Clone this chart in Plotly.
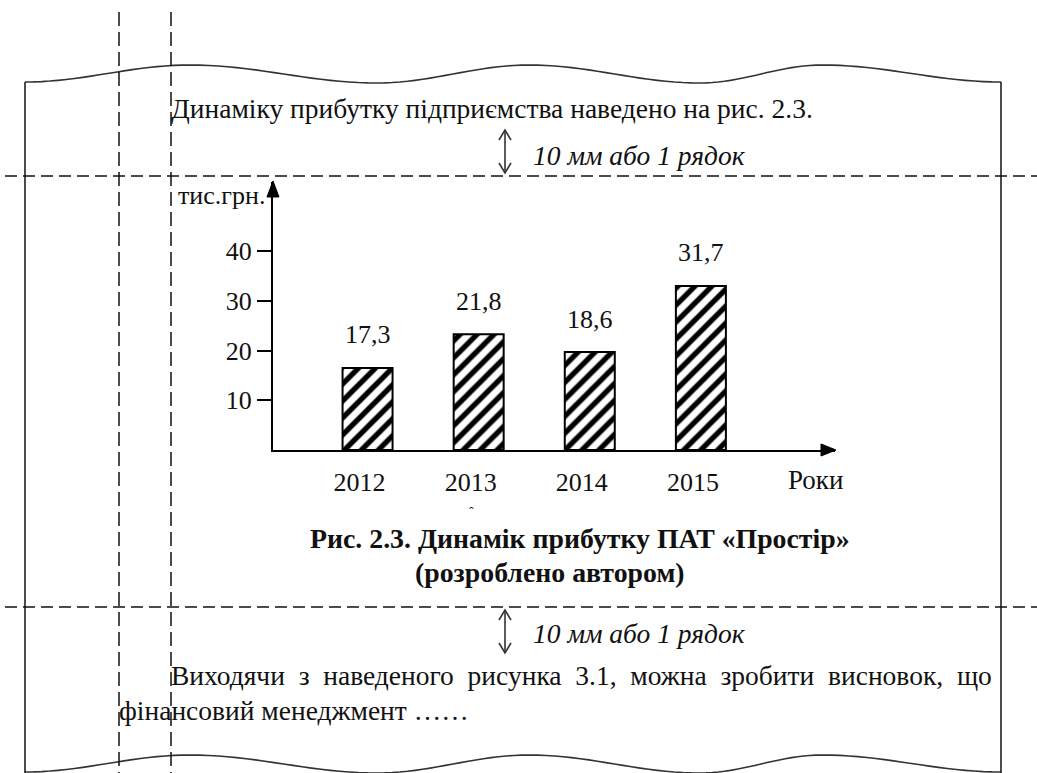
import math
import plotly.graph_objects as go

# ---------------- data ----------------
years = ["2012", "2013", "2014", "2015"]
bar_heights = [16.5, 23.3, 19.7, 33.0]          # heights as drawn in the picture
value_labels = ["17,3", "21,8", "18,6", "31,7"]  # printed values above the bars
y_ticks = [10, 20, 30, 40]
y_tick_labels = ["10", "20", "30", "40"]

# ---------------- page geometry (pixels) ----------------
W, H = 1037, 773
PL, PR, PT, PB = 273, 835, 182, 450   # plot area

def px(x):
    return (x - PL) / (PR - PL)

def py(y):
    return (PB - y) / (PB - PT)

FONT = "Liberation Serif"
INK = "#111111"

fig = go.Figure(
    go.Bar(
        x=years,
        y=bar_heights,
        width=0.45,
        marker=dict(
            color="white",
            line=dict(color="black", width=2),
            pattern=dict(shape="/", fgcolor="black", bgcolor="white",
                         size=12, solidity=0.45, fillmode="replace"),
        ),
        hoverinfo="skip",
    )
)

shapes = []

def line(x0, y0, x1, y1, color=INK, width=1.5, dash="solid"):
    shapes.append(dict(type="line", xref="paper", yref="paper",
                       x0=px(x0), y0=py(y0), x1=px(x1), y1=py(y1),
                       line=dict(color=color, width=width, dash=dash)))

def path(points, color=INK, width=1.5, fill=None, close=False):
    d = "M " + " L ".join(f"{px(a):.5f},{py(b):.5f}" for a, b in points)
    if close:
        d += " Z"
    s = dict(type="path", xref="paper", yref="paper", path=d,
             line=dict(color=color, width=width))
    if fill:
        s["fillcolor"] = fill
    shapes.append(s)

# wavy page edges
wave_keys = [(25, 82), (190, 65), (377, 83), (529, 65), (700, 83), (822, 65), (1001, 82)]

def wave(offset):
    pts = []
    for (xa, ya), (xb, yb) in zip(wave_keys[:-1], wave_keys[1:]):
        for k in range(20):
            t = k / 20
            s = (1 - math.cos(math.pi * t)) / 2
            pts.append((xa + (xb - xa) * t, ya + (yb - ya) * s + offset))
    pts.append((wave_keys[-1][0], wave_keys[-1][1] + offset))
    path(pts, color="#333333", width=1.6)

wave(0)
wave(690)

# page borders
line(25, 82, 25, 773, width=1.5)
line(1001, 82, 1001, 773, width=1.5)

# dashed guide lines
line(5, 176, 1037, 176, width=1.5, dash="12px,6px")
line(5, 607, 1037, 607, width=1.5, dash="12px,6px")
line(119, 12, 119, 773, width=1.5, dash="14px,6px")
line(171, 12, 171, 773, width=1.5, dash="14px,6px")

# axis arrowheads
path([(273, 181), (267, 197), (279, 197)], color="black", width=1, fill="black", close=True)
path([(836, 450), (821, 444), (821, 456)], color="black", width=1, fill="black", close=True)

# double arrows (spacing markers)
for top, bot in [(130, 173), (610, 653)]:
    path([(505, top + 1), (505, bot - 1)], color="#333333", width=1.6)
    path([(499, top + 10), (505, top), (511, top + 10)], color="#333333", width=1.6)
    path([(499, bot - 10), (505, bot), (511, bot - 10)], color="#333333", width=1.6)

annotations = []

def text(t, x, y, size=27.5, anchor="left", color=INK):
    annotations.append(dict(text=t, xref="paper", yref="paper", x=px(x), y=py(y),
                            xanchor=anchor, yanchor="middle", showarrow=False,
                            font=dict(family=FONT, size=size, color=color)))

NB = "\u00a0"
para1 = "Виходячи з наведеного рисунка 3.1, можна зробити висновок, що".replace(" ", NB + NB)

text("Динаміку прибутку підприємства наведено на рис. 2.3.", 169, 108)
text("<i>10 мм або 1 рядок</i>", 531, 155, size=27.5)
text("тис.грн.", 176, 195, size=26)
text("Роки", 815, 480, anchor="center", size=27)
text("ˆ", 471, 512, size=14, anchor="center")
text("<b>Рис. 2.3. Динамік прибутку ПАТ «Простір»</b>", 580, 538, size=27.8, anchor="center")
text("<b>(розроблено автором)</b>", 550, 572, size=27.8, anchor="center")
text("<i>10 мм або 1 рядок</i>", 531, 633, size=27.5)
text(para1, 169, 675)
text("фінансовий менеджмент ……", 117, 710)

# value labels above bars (category axis -> positions by index)
for i, (h, lab) in enumerate(zip(bar_heights, value_labels)):
    annotations.append(dict(text=lab, x=i, y=h, xref="x", yref="y",
                            yshift=33, showarrow=False, yanchor="middle",
                            xanchor="center",
                            font=dict(family=FONT, size=26, color=INK)))

fig.update_layout(
    width=W, height=H,
    margin=dict(l=PL, r=W - PR, t=PT, b=H - PB, pad=0),
    paper_bgcolor="white", plot_bgcolor="white",
    showlegend=False,
    font=dict(family=FONT, size=26, color=INK),
    shapes=shapes,
    annotations=annotations,
    xaxis=dict(type="category", range=[-0.851, 4.207], showline=True,
               linecolor="black", linewidth=2, ticks="", showgrid=False,
               zeroline=False, tickfont=dict(family=FONT, size=26, color=INK),
               ticklabelstandoff=8, ticklabelshift=-8, fixedrange=True),
    yaxis=dict(range=[0, 53.9], tickvals=y_ticks, ticktext=y_tick_labels,
               showline=True, linecolor="black", linewidth=2,
               ticks="outside", ticklen=14, tickwidth=2, tickcolor="black",
               showgrid=False, zeroline=False,
               tickfont=dict(family=FONT, size=26, color=INK), fixedrange=True),
)

fig.write_html("out.html", config={"displayModeBar": False},
               post_script="document.body.style.margin='0';document.body.style.overflow='hidden';")
